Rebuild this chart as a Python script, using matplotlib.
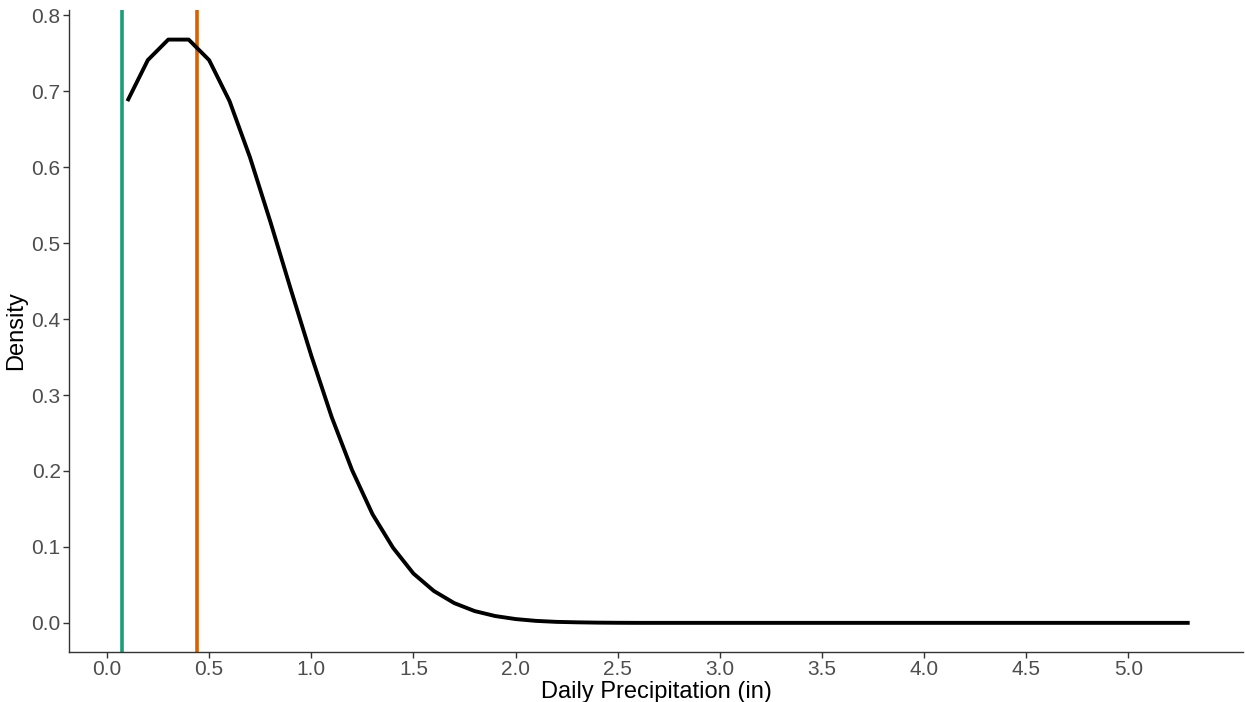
import matplotlib
matplotlib.use("Agg")
import matplotlib.pyplot as plt

plt.rcParams.update({"font.family": ["Liberation Sans", "DejaVu Sans"]})

# density curve
precip = [0.1, 0.2, 0.3, 0.4, 0.5, 0.6, 0.7, 0.8, 0.9, 1.0,
          1.1, 1.2, 1.3, 1.4, 1.5, 1.6, 1.7, 1.8, 1.9, 2.0,
          2.1, 2.2, 2.3, 2.4, 2.5, 2.6, 2.7, 2.8, 2.9, 3.0,
          3.1, 3.2, 3.3, 3.4, 3.5, 3.6, 3.7, 3.8, 3.9, 4.0,
          4.1, 4.2, 4.3, 4.4, 4.5, 4.6, 4.7, 4.8, 4.9, 5.0,
          5.1, 5.2, 5.3]
density = [0.687, 0.741, 0.768, 0.768, 0.741, 0.687, 0.613, 0.528, 0.439, 0.352,
           0.271, 0.201, 0.143, 0.099, 0.065, 0.042, 0.026, 0.0155, 0.009, 0.005,
           0.0026, 0.0013, 0.0007, 0.0003, 0.0001, 0.0, 0.0, 0.0, 0.0, 0.0,
           0.0, 0.0, 0.0, 0.0, 0.0, 0.0, 0.0, 0.0, 0.0, 0.0,
           0.0, 0.0, 0.0, 0.0, 0.0, 0.0, 0.0, 0.0, 0.0, 0.0,
           0.0, 0.0, 0.0]

# reference lines
lower_line = 0.075
upper_line = 0.44

fig = plt.figure(figsize=(12.45, 7.02), dpi=100)
ax = fig.add_axes([0.0554, 0.0712, 0.9430, 0.9146])

ax.plot(precip, density, color="black", lw=2.8, solid_capstyle="butt", zorder=3)
ax.axvline(lower_line, color="#1B9E77", lw=2.6, zorder=2)
ax.axvline(upper_line, color="#D95F02", lw=2.6, zorder=2)

ax.set_xlim(-0.186, 5.561)
ax.set_ylim(-0.0384, 0.807)
ax.set_xticks([i * 0.5 for i in range(11)])
ax.set_yticks([i * 0.1 for i in range(9)])
ax.xaxis.set_major_formatter(matplotlib.ticker.FormatStrFormatter("%.1f"))
ax.yaxis.set_major_formatter(matplotlib.ticker.FormatStrFormatter("%.1f"))

for side in ["top", "right"]:
    ax.spines[side].set_visible(False)
for side in ["left", "bottom"]:
    ax.spines[side].set_color("#333333")
    ax.spines[side].set_linewidth(1.0)

ax.tick_params(axis="both", colors="#333333", length=4, width=1.0,
               labelsize=15, labelcolor="#4D4D4D", pad=2)

ax.set_xlabel("Daily Precipitation (in)", fontsize=17, labelpad=1)
ax.set_ylabel("Density", fontsize=17, labelpad=3)

fig.savefig("out.png", dpi=100)
